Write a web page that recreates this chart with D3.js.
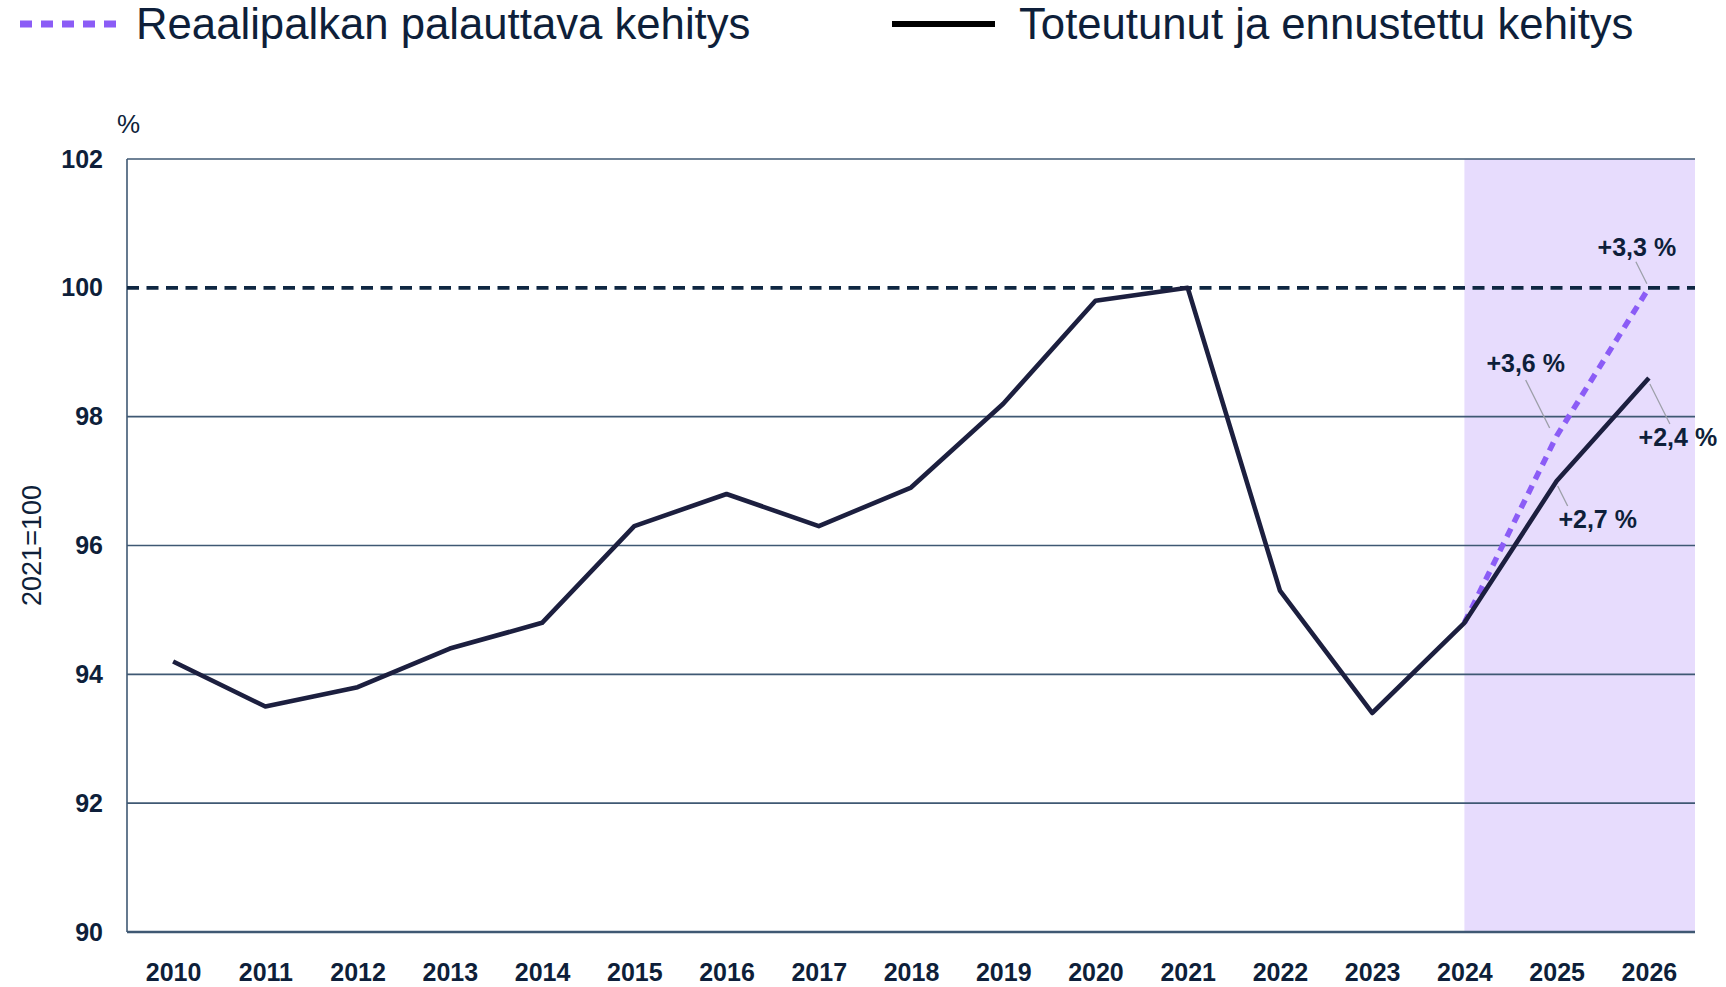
<!DOCTYPE html>
<html>
<head>
<meta charset="utf-8">
<script src="https://cdn.jsdelivr.net/npm/d3@7"></script>
<style>
  body { margin: 0; background: #fff; }
  svg { display: block; font-family: "Liberation Sans", Arial, sans-serif; }
</style>
</head>
<body>
<div id="wrapper"></div>
<script>
// data
const years = [2010, 2011, 2012, 2013, 2014, 2015, 2016, 2017, 2018, 2019, 2020, 2021, 2022, 2023, 2024, 2025, 2026];
const actual = [94.2, 93.5, 93.8, 94.4, 94.8, 96.3, 96.8, 96.3, 96.9, 98.2, 99.8, 100.0, 95.3, 93.4, 94.8, 97.0, 98.6];
const restoreYears = [2024, 2025, 2026];
const restore = [94.8, 97.7, 100.0];
const yTicks = [90, 92, 94, 96, 98, 100, 102];
const forecastStart = 2024;
const legendLabels = ["Reaalipalkan palauttava kehitys", "Toteutunut ja ennustettu kehitys"];
// annotations: which series, which year, text
const notes = [
  {series: "restore", year: 2026, text: "+3,3 %"},
  {series: "restore", year: 2025, text: "+3,6 %"},
  {series: "actual", year: 2026, text: "+2,4 %"},
  {series: "actual", year: 2025, text: "+2,7 %"}
];

const dimension = {
  width: 1726,
  height: 987,
  margin: {top: 159, left: 127, right: 31, bottom: 55}
};
dimension.boundedWidth = dimension.width - dimension.margin.left - dimension.margin.right;
dimension.boundedHeight = dimension.height - dimension.margin.top - dimension.margin.bottom;

const navy = "#1c1f3f";
const purple = "#8b5cf6";
const gridColor = "#3f5873";
const textColor = "#0e1f3a";

const svg = d3.select("#wrapper")
  .append("svg")
  .attr("width", dimension.width)
  .attr("height", dimension.height);

const xScale = d3.scalePoint()
  .domain(years)
  .range([0, dimension.boundedWidth])
  .padding(0.5);

const yScale = d3.scaleLinear()
  .domain([90, 102])
  .range([dimension.boundedHeight, 0]);

const bounded = svg.append("g")
  .attr("transform", `translate(${dimension.margin.left},${dimension.margin.top})`);

// forecast shading
bounded.append("rect")
  .attr("x", xScale(forecastStart))
  .attr("y", 0)
  .attr("width", dimension.boundedWidth - xScale(forecastStart))
  .attr("height", dimension.boundedHeight)
  .attr("fill", "#e7dcfd");

// grid lines
bounded.append("g")
  .selectAll("line")
  .data(yTicks.filter(d => d !== 100))
  .join("line")
  .attr("x1", 0)
  .attr("x2", dimension.boundedWidth)
  .attr("y1", d => yScale(d))
  .attr("y2", d => yScale(d))
  .attr("stroke", gridColor)
  .attr("stroke-width", d => d === 90 ? 2.5 : 1.6);

// left axis line
bounded.append("line")
  .attr("x1", 0).attr("x2", 0)
  .attr("y1", 0).attr("y2", dimension.boundedHeight)
  .attr("stroke", gridColor)
  .attr("stroke-width", 1.6);

// 100 reference line
bounded.append("line")
  .attr("x1", 0)
  .attr("x2", dimension.boundedWidth)
  .attr("y1", yScale(100))
  .attr("y2", yScale(100))
  .attr("stroke", "#0f2742")
  .attr("stroke-width", 3.6)
  .attr("stroke-dasharray", "12,7.5");

// y axis labels
const yAxis = d3.axisLeft(yScale).tickValues(yTicks).tickSize(0).tickPadding(24);
const yAxisG = bounded.append("g").call(yAxis);
yAxisG.select(".domain").remove();
yAxisG.selectAll("text")
  .attr("font-size", 25)
  .attr("font-weight", "bold")
  .attr("font-family", "'Liberation Sans', Arial, sans-serif")
  .attr("fill", textColor);

// x axis labels
const xAxis = d3.axisBottom(xScale).tickSize(0).tickPadding(31);
const xAxisG = bounded.append("g")
  .attr("transform", `translate(0,${dimension.boundedHeight})`)
  .call(xAxis);
xAxisG.select(".domain").remove();
xAxisG.selectAll("text")
  .attr("font-size", 25)
  .attr("font-weight", "bold")
  .attr("font-family", "'Liberation Sans', Arial, sans-serif")
  .attr("fill", textColor);

// unit and base labels
svg.append("text")
  .attr("x", dimension.margin.left - 10)
  .attr("y", 133)
  .attr("font-size", 26)
  .attr("fill", textColor)
  .text("%");

svg.append("text")
  .attr("transform", `translate(41,${dimension.margin.top + yScale(96)}) rotate(-90)`)
  .attr("text-anchor", "middle")
  .attr("font-size", 27)
  .attr("fill", textColor)
  .text("2021=100");

const line = d3.line()
  .x(d => xScale(d[0]))
  .y(d => yScale(d[1]));

const actualPts = years.map((y, i) => [y, actual[i]]);
const restorePts = restoreYears.map((y, i) => [y, restore[i]]);

bounded.append("path")
  .datum(restorePts)
  .attr("d", line)
  .attr("fill", "none")
  .attr("stroke", purple)
  .attr("stroke-width", 5.5)
  .attr("stroke-dasharray", "9,7");

bounded.append("path")
  .datum(actualPts)
  .attr("d", line)
  .attr("fill", "none")
  .attr("stroke", navy)
  .attr("stroke-width", 4.6)
  .attr("stroke-linejoin", "round");

// annotations (offsets relative to the data point)
const noteLayout = {
  "+3,3 %": {tx: -12, ty: -32, l: [-13, -26, -2, -4]},
  "+3,6 %": {tx: -31, ty: -64, l: [-31, -56, -7, -8]},
  "+2,4 %": {tx: 29, ty: 68, l: [1, 6, 21, 46]},
  "+2,7 %": {tx: 41, ty: 47, l: [1, 5, 11, 25]}
};
notes.forEach(n => {
  const vals = n.series === "restore" ? restore : actual;
  const yrs = n.series === "restore" ? restoreYears : years;
  const px = xScale(n.year);
  const py = yScale(vals[yrs.indexOf(n.year)]);
  const o = noteLayout[n.text];
  bounded.append("line")
    .attr("x1", px + o.l[0]).attr("y1", py + o.l[1])
    .attr("x2", px + o.l[2]).attr("y2", py + o.l[3])
    .attr("stroke", "#9c9fa8")
    .attr("stroke-width", 1.3);
  bounded.append("text")
    .attr("x", px + o.tx)
    .attr("y", py + o.ty)
    .attr("text-anchor", "middle")
    .attr("font-size", 25)
    .attr("font-weight", "bold")
    .attr("fill", textColor)
    .text(n.text);
});

// legend
const legend = svg.append("g");
legend.append("line")
  .attr("x1", 20).attr("x2", 118)
  .attr("y1", 24).attr("y2", 24)
  .attr("stroke", purple)
  .attr("stroke-width", 7)
  .attr("stroke-dasharray", "12,9");
legend.append("text")
  .attr("x", 136).attr("y", 39)
  .attr("font-size", 43.7)
  .attr("fill", textColor)
  .text(legendLabels[0]);
legend.append("line")
  .attr("x1", 892).attr("x2", 995)
  .attr("y1", 24).attr("y2", 24)
  .attr("stroke", "#000")
  .attr("stroke-width", 6);
legend.append("text")
  .attr("x", 1019).attr("y", 39)
  .attr("font-size", 43.7)
  .attr("fill", textColor)
  .text(legendLabels[1]);
</script>
</body>
</html>
